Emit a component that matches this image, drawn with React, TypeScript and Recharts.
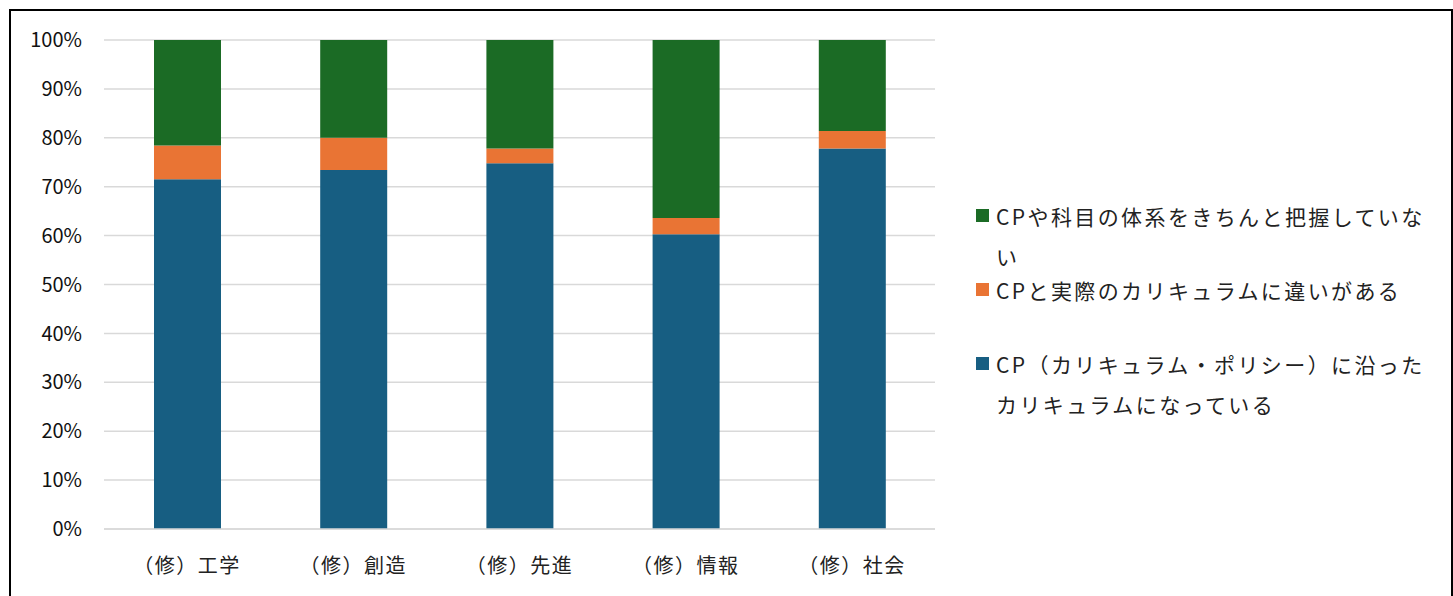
import { BarChart, Bar, XAxis, YAxis, CartesianGrid } from "recharts";

const categories = ["（修）工学", "（修）創造", "（修）先進", "（修）情報", "（修）社会"];
const aligned = [71.5, 73.4, 74.8, 60.3, 77.8];
const differs = [6.9, 6.6, 3.0, 3.3, 3.6];
const unknown = [21.6, 20.0, 22.2, 36.4, 18.6];
const yTicks = [0, 10, 20, 30, 40, 50, 60, 70, 80, 90, 100];

const seriesNames = [
  "CP（カリキュラム・ポリシー）に沿ったカリキュラムになっている",
  "CPと実際のカリキュラムに違いがある",
  "CPや科目の体系をきちんと把握していない",
];
const seriesColors = ["#175e82", "#e97434", "#1b6b25"];

const data = categories.map((name, i) => ({
  name,
  aligned: aligned[i],
  differs: differs[i],
  unknown: unknown[i],
}));

const FONT = "'Noto Sans CJK JP', 'Noto Sans', sans-serif";

// legend item tops, Excel-style spacing
const legendTops = [344, 270, 196];

function ChartLegend() {
  return (
    <div style={{ position: "absolute", left: 976, top: 0, fontFamily: FONT }}>
      {seriesNames.map((label, i) => (
        <div
          key={label}
          style={{
            position: "absolute",
            left: 0,
            top: legendTops[i],
            width: 470,
            display: "flex",
            alignItems: "flex-start",
          }}
        >
          <span
            style={{
              display: "inline-block",
              width: 13,
              height: 13,
              marginTop: 13,
              marginRight: 7,
              background: seriesColors[i],
              flexShrink: 0,
            }}
          />
          <span
            style={{
              fontSize: 21,
              lineHeight: "40px",
              letterSpacing: "2.4px",
              color: "#222",
              width: 448,
              textAlign: "left",
            }}
          >
            {label}
          </span>
        </div>
      ))}
    </div>
  );
}

export default function App() {
  return (
    <div style={{ position: "absolute", left: 0, top: 0, width: 1453, height: 596, overflow: "hidden", background: "#fff" }}>
      <div
        style={{
          position: "absolute",
          left: 9,
          top: 9,
          width: 1440,
          height: 620,
          border: "2px solid #000",
        }}
      />
      <div style={{ position: "absolute", left: 0, top: 0 }}>
        <BarChart
          width={1453}
          height={596}
          data={data}
          margin={{ top: 40, right: 518, bottom: 0, left: 0 }}
          barSize={67}
        >
          <CartesianGrid vertical={false} stroke="#d9d9d9" strokeWidth={1.5} />
          <XAxis
            dataKey="name"
            axisLine={{ stroke: "#d9d9d9", strokeWidth: 1.5 }}
            tickLine={false}
            height={67}
            tickMargin={24}
            tick={{ fontSize: 20, fill: "#222", fontFamily: FONT, letterSpacing: "1.5px" }}
            interval={0}
          />
          <YAxis
            domain={[0, 100]}
            ticks={yTicks}
            width={104}
            axisLine={false}
            tickLine={false}
            tickMargin={16}
            tickFormatter={(v) => `${v}%`}
            tick={{ fontSize: 20, fill: "#111", fontFamily: FONT }}
          />
          <Bar dataKey="aligned" name={seriesNames[0]} stackId="a" fill={seriesColors[0]} isAnimationActive={false} />
          <Bar dataKey="differs" name={seriesNames[1]} stackId="a" fill={seriesColors[1]} isAnimationActive={false} />
          <Bar dataKey="unknown" name={seriesNames[2]} stackId="a" fill={seriesColors[2]} isAnimationActive={false} />
        </BarChart>
      </div>
      <ChartLegend />
    </div>
  );
}
